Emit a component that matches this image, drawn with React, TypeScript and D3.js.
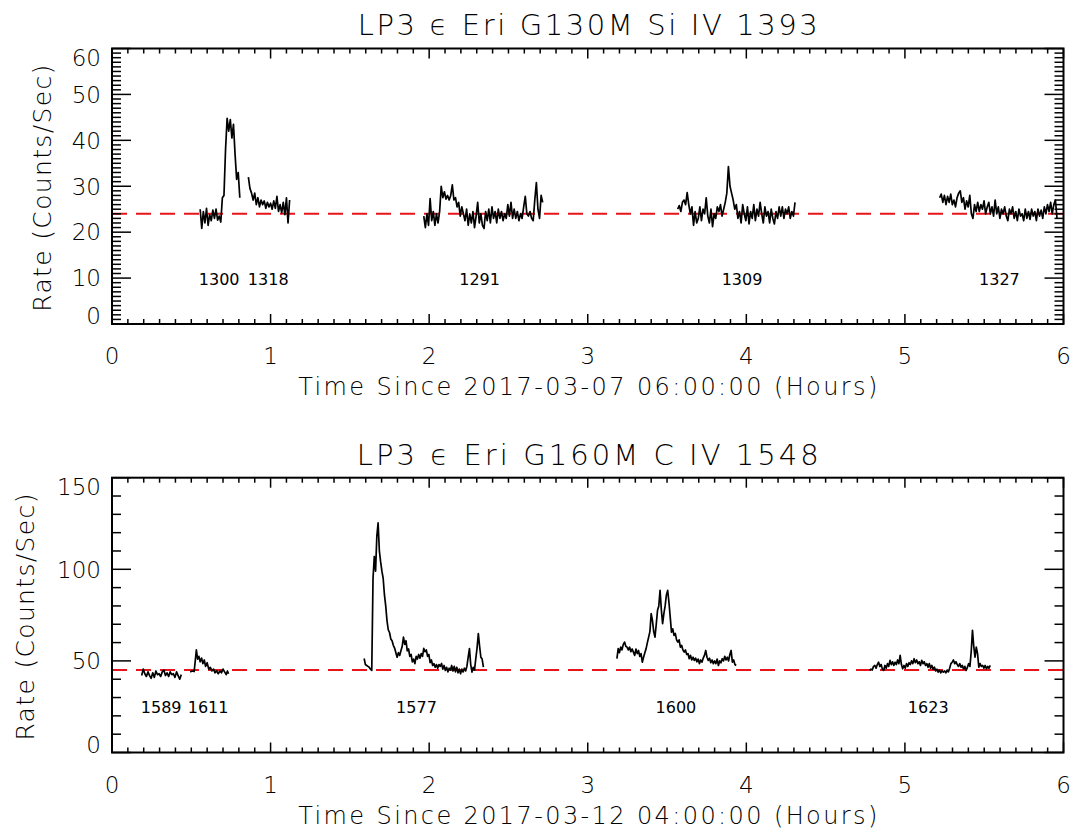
import React from "react";
import * as d3 from "d3";

// ---------- data (top panel: G130M Si IV 1393) ----------
const topSeg1Start = 0.556;
const topSeg1 = [25.0, 20.8, 24.5, 22.0, 25.2, 21.5, 23.8, 22.5, 24.8, 23.0, 25.0, 22.6, 23.5, 22.2, 27.5, 28.0, 38.0, 44.8, 42.0, 44.5, 40.5, 43.5, 37.0, 31.5, 33.0, 27.5];
const topSeg2Start = 0.86;
const topSeg2 = [32.0, 29.5, 28.5, 27.0, 28.5, 26.0, 27.5, 25.5, 27.0, 26.0, 26.8, 25.2, 26.5, 25.5, 26.3, 25.0, 26.8, 25.2, 27.8, 24.5, 26.0, 24.2, 26.5, 23.8, 27.5, 22.0, 27.0];
const topSeg3Start = 1.966;
const topSeg3 = [23.5, 21.0, 24.0, 21.5, 27.3, 22.5, 24.5, 21.5, 24.0, 22.0, 24.5, 30.0, 27.5, 28.8, 27.2, 28.0, 27.0, 28.0, 30.3, 27.0, 27.5, 25.5, 26.5, 23.5, 25.5, 24.0, 22.5, 25.0, 21.5, 24.0, 22.0, 24.5, 21.0, 23.5, 26.5, 22.0, 24.0, 21.5, 20.8, 24.5, 22.5, 25.0, 22.0, 25.5, 23.0, 24.5, 22.0, 25.0, 23.0, 24.5, 22.5, 24.0, 23.0, 26.0, 23.5, 26.5, 23.0, 25.0, 23.0, 24.5, 22.5, 24.0, 23.0, 25.5, 27.8, 24.0, 23.5, 24.5, 23.0, 22.5, 27.0, 30.8, 25.0, 23.0, 28.0, 26.5];
const topSeg4Start = 3.567;
const topSeg4 = [25.0, 25.8, 24.5, 26.5, 27.0, 26.0, 28.6, 26.0, 24.0, 25.5, 21.5, 24.5, 22.0, 23.0, 25.5, 22.5, 25.0, 24.0, 27.5, 23.5, 22.0, 25.0, 21.2, 24.0, 23.0, 25.5, 24.5, 26.0, 23.5, 25.0, 26.5, 28.5, 34.3, 30.0, 28.5, 27.0, 25.0, 26.0, 23.0, 24.5, 22.0, 26.0, 24.0, 22.5, 25.5, 21.8, 24.5, 23.0, 26.0, 22.5, 25.0, 23.5, 26.5, 24.0, 22.0, 25.5, 23.5, 24.5, 22.0, 25.0, 23.0, 21.8, 24.5, 23.0, 25.5, 23.5, 25.5, 23.0, 25.0, 24.0, 25.5, 23.0, 24.5, 23.5, 26.5];
const topSeg5Start = 5.219;
const topSeg5 = [27.5, 28.3, 26.5, 28.0, 26.0, 27.8, 26.5, 28.3, 26.0, 27.0, 25.5, 27.5, 28.5, 29.0, 26.5, 27.5, 25.0, 26.8, 25.5, 28.0, 24.0, 23.0, 26.0, 24.5, 26.5, 24.5, 26.0, 25.0, 26.8, 24.0, 25.5, 26.5, 24.0, 25.5, 23.5, 27.0, 24.0, 25.5, 23.0, 25.0, 24.0, 25.5, 23.5, 22.5, 25.0, 24.0, 25.5, 23.0, 24.5, 22.5, 25.0, 23.5, 24.0, 22.5, 25.0, 23.0, 24.5, 22.8, 25.0, 23.5, 24.5, 22.5, 25.0, 23.5, 24.8, 23.0, 25.5, 24.0, 26.0, 24.5, 26.5, 24.0, 26.0, 27.0, 23.0];
const topStep = 0.01;
const topBaseline = 24;
const topLabels = ["1300", "1318", "1291", "1309", "1327"];
const topLabelTimes = [0.676, 0.985, 2.318, 3.973, 5.596];

// ---------- data (bottom panel: G160M C IV 1548) ----------
const botSeg1Start = 0.187;
const botSeg1 = [42.0, 45.5, 43.0, 41.5, 44.0, 42.0, 40.5, 43.5, 41.0, 44.5, 42.5, 43.0, 41.5, 44.0, 45.0, 42.0, 43.5, 41.5, 44.0, 42.5, 43.0, 41.0, 44.0, 42.0, 40.0, 42.5];
const botSeg2T = [0.493, 0.505, 0.518, 0.525, 0.532, 0.54, 0.548, 0.556, 0.565, 0.573, 0.582, 0.59, 0.6, 0.61, 0.62, 0.63, 0.64, 0.65, 0.66, 0.67, 0.68, 0.69, 0.7, 0.71, 0.72, 0.728, 0.735];
const botSeg2V = [44.0, 44.5, 44.2, 50.0, 56.0, 51.0, 52.5, 49.5, 51.5, 48.5, 50.5, 47.0, 49.0, 45.5, 46.5, 44.5, 45.5, 43.5, 44.5, 43.0, 44.5, 43.5, 45.5, 44.0, 42.5, 44.5, 43.0];
const botStep = 0.008;
const botSeg3Start = 1.59;
const botSeg3 = [51.3, 48.0, 47.5, 47.0, 46.5, 45.5, 44.8, 95.0, 107.0, 99.0, 118.0, 125.3, 110.0, 104.0, 99.0, 95.0, 86.0, 80.0, 72.0, 67.0, 65.5, 62.0, 61.0, 58.5, 57.0, 54.5, 52.0, 54.5, 53.0, 55.5, 58.0, 63.0, 59.0, 61.0, 55.5, 56.5, 52.5, 53.5, 49.5, 51.0, 48.5, 52.5, 51.0, 53.5, 51.5, 54.0, 52.5, 56.8, 55.0, 56.0, 52.5, 53.5, 49.0, 50.5, 47.5, 48.5, 46.5, 48.0, 46.0, 48.0, 47.0, 48.6, 45.5, 47.5, 44.8, 46.5, 44.0, 46.0, 45.0, 47.5, 44.5, 47.0, 44.0, 46.5, 43.5, 45.5, 43.0, 45.5, 44.0, 46.0, 44.5, 47.0, 52.0, 56.7, 48.0, 43.9, 46.5, 45.0, 51.2, 57.0, 64.9, 58.0, 52.0, 51.0, 46.6];
const botSeg4Start = 3.184;
const botSeg4 = [51.2, 56.7, 54.5, 57.5, 56.0, 59.0, 60.3, 58.0, 57.5, 56.0, 57.5, 55.0, 56.5, 54.8, 53.0, 56.5, 54.0, 55.7, 52.5, 54.0, 49.3, 52.0, 54.5, 56.7, 60.0, 63.0, 66.0, 75.8, 72.0, 66.0, 63.0, 70.0, 77.6, 80.0, 88.5, 78.0, 70.3, 75.8, 80.0, 86.0, 88.5, 82.0, 74.0, 65.7, 67.5, 63.9, 65.0, 61.5, 60.3, 61.5, 57.5, 58.5, 56.0, 54.8, 56.0, 53.5, 54.0, 51.2, 53.0, 50.5, 52.0, 50.3, 51.5, 49.5, 51.0, 48.5, 50.5, 49.3, 51.5, 53.0, 55.7, 52.0, 50.3, 51.5, 49.0, 50.5, 48.5, 50.0, 48.5, 51.0, 47.5, 50.0, 49.0, 51.2, 50.0, 52.5, 50.5, 52.0, 50.0, 53.5, 55.7, 49.3, 50.5, 48.0, 47.5];
const botSeg5Start = 4.778;
const botSeg5 = [44.8, 45.5, 45.0, 47.0, 47.5, 46.0, 48.0, 49.3, 47.0, 48.0, 45.5, 44.8, 47.5, 46.0, 48.5, 47.0, 50.3, 48.0, 49.5, 47.5, 49.3, 48.0, 50.5, 48.5, 53.0, 48.0, 45.7, 47.5, 46.0, 48.5, 47.0, 49.0, 48.0, 50.0, 48.5, 51.2, 49.0, 50.5, 48.5, 49.5, 47.5, 50.3, 48.5, 49.5, 47.5, 48.5, 46.5, 48.5, 46.0, 47.5, 45.5, 46.6, 44.5, 45.5, 43.9, 45.0, 43.5, 44.5, 43.9, 44.5, 43.5, 45.0, 44.0, 46.0, 48.5, 49.3, 50.5, 48.5, 49.5, 48.0, 47.0, 48.5, 46.6, 47.5, 45.5, 47.0, 44.8, 46.5, 48.5, 47.0, 55.0, 66.7, 58.0, 52.0, 57.5, 54.0, 46.6, 48.5, 47.0, 47.5, 46.0, 47.5, 45.7, 47.0, 46.0, 47.5];
const botBaseline = 45;
const botLabels = ["1589", "1611", "1577", "1600", "1623"];
const botLabelTimes = [0.31, 0.606, 1.92, 3.556, 5.147];

const topTitle = "LP3 \u03f5 Eri G130M Si IV 1393";
const botTitle = "LP3 \u03f5 Eri G160M C IV 1548";
const topXLabel = "Time Since 2017-03-07 06:00:00 (Hours)";
const botXLabel = "Time Since 2017-03-12 04:00:00 (Hours)";
const yLabel = "Rate (Counts/Sec)";
const xTicks = [0, 1, 2, 3, 4, 5, 6];
const topYTicks = [0, 10, 20, 30, 40, 50, 60];
const botYTicks = [0, 50, 100, 150];

type Pt = [number, number];
const regular = (start: number, step: number, vals: number[]): Pt[] => vals.map((v, i) => [start + i * step, v]);
const paired = (ts: number[], vs: number[]): Pt[] => ts.map((t, i) => [t, vs[i]]);

const FONT = "'DejaVu Sans', sans-serif";

interface PanelProps {
  top: number;
  bottom: number;
  yMax: number;
  yMinorStep: number;
  yTicks: number[];
  segments: Pt[][];
  baseline: number;
  labels: string[];
  labelTimes: number[];
  labelY: number;
  title: string;
  titleY: number;
  titleLen: number;
  xLabel: string;
  yLabelX: number;
}

const LEFT = 112;
const RIGHT = 1063.5;

function Panel(p: PanelProps) {
  const x = d3.scaleLinear().domain([0, 6]).range([LEFT, RIGHT]);
  const y = d3.scaleLinear().domain([0, p.yMax]).range([p.bottom, p.top]);
  const line = d3.line<Pt>().x((d) => x(d[0])).y((d) => y(d[1]));
  const xMinor = d3.range(0, 6.0001, 0.1);
  const yMinor = d3.range(0, p.yMax + 0.0001, p.yMinorStep);
  const xMajLen = 10, xMinLen = 5, yMajLen = 19, yMinLen = 9;
  const yMid = (p.top + p.bottom) / 2;
  return (
    <g>
      <text x={(LEFT + RIGHT) / 2} y={p.titleY} textAnchor="middle" fontSize={29} fontFamily={FONT} fontWeight={200}
        textLength={p.titleLen} lengthAdjust="spacing">{p.title}</text>
      <line x1={LEFT} x2={RIGHT} y1={y(p.baseline)} y2={y(p.baseline)} stroke="#e8141c" strokeWidth={2} strokeDasharray="15,9" />
      {p.segments.map((s, i) => (
        <path key={i} d={line(s) || ""} fill="none" stroke="#000" strokeWidth={1.7} strokeLinejoin="round" />
      ))}
      {p.labels.map((l, i) => (
        <text key={l} x={x(p.labelTimes[i])} y={p.labelY} textAnchor="middle" fontSize={16} fontFamily={FONT} fontWeight={400}>{l}</text>
      ))}
      {xMinor.map((t, i) => {
        const len = Math.abs(t - Math.round(t)) < 1e-6 ? xMajLen : xMinLen;
        return (
          <g key={"xm" + i}>
            <line x1={x(t)} x2={x(t)} y1={p.bottom} y2={p.bottom - len} stroke="#000" strokeWidth={1.5} />
            <line x1={x(t)} x2={x(t)} y1={p.top} y2={p.top + len} stroke="#000" strokeWidth={1.5} />
          </g>
        );
      })}
      {yMinor.map((v, i) => {
        const major = p.yTicks.some((t) => Math.abs(t - v) < 1e-6);
        const len = major ? yMajLen : yMinLen;
        return (
          <g key={"ym" + i}>
            <line x1={LEFT} x2={LEFT + len} y1={y(v)} y2={y(v)} stroke="#000" strokeWidth={1.5} />
            <line x1={RIGHT} x2={RIGHT - len} y1={y(v)} y2={y(v)} stroke="#000" strokeWidth={1.5} />
          </g>
        );
      })}
      <rect x={LEFT} y={p.top} width={RIGHT - LEFT} height={p.bottom - p.top} fill="none" stroke="#000" strokeWidth={2} />
      {xTicks.map((t) => (
        <text key={"xl" + t} x={x(t)} y={p.bottom + 40} textAnchor="middle" fontSize={23} fontFamily={FONT} fontWeight={200}>{t}</text>
      ))}
      {p.yTicks.map((v) => {
        const yy = Math.max(p.top + 9.5, Math.min(p.bottom - 8, y(v)));
        return (
          <text key={"yl" + v} x={101} y={yy} dy="0.36em" textAnchor="end" fontSize={23} fontFamily={FONT} fontWeight={200}>{v}</text>
        );
      })}
      <text x={(LEFT + RIGHT) / 2 + 0} y={p.bottom + 71} textAnchor="middle" fontSize={24} fontFamily={FONT} fontWeight={200}
        textLength={579} lengthAdjust="spacing">{p.xLabel}</text>
      <text transform={`translate(${p.yLabelX},${yMid + 2}) rotate(-90)`} textAnchor="middle" fontSize={25} fontFamily={FONT} fontWeight={200}
        textLength={247} lengthAdjust="spacing">{yLabel}</text>
    </g>
  );
}

export default function App() {
  const topSegs = [
    regular(topSeg1Start, topStep, topSeg1),
    regular(topSeg2Start, topStep, topSeg2),
    regular(topSeg3Start, topStep, topSeg3),
    regular(topSeg4Start, topStep, topSeg4),
    regular(topSeg5Start, topStep, topSeg5),
  ];
  const botSegs = [
    regular(botSeg1Start, topStep, botSeg1),
    paired(botSeg2T, botSeg2V),
    regular(botSeg3Start, botStep, botSeg3),
    regular(botSeg4Start, botStep, botSeg4),
    regular(botSeg5Start, botStep, botSeg5),
  ];
  return (
    <svg width={1075} height={833} viewBox="0 0 1075 833" style={{ position: "absolute", left: 0, top: 0, background: "#fff" }}>
      <rect x={0} y={0} width={1075} height={833} fill="#fff" />
      <Panel top={48.5} bottom={324} yMax={60} yMinorStep={1} yTicks={topYTicks} segments={topSegs} baseline={topBaseline}
        labels={topLabels} labelTimes={topLabelTimes} labelY={285} title={topTitle} titleY={35} titleLen={460}
        xLabel={topXLabel} yLabelX={51} />
      <Panel top={477.7} bottom={752.5} yMax={150} yMinorStep={10} yTicks={botYTicks} segments={botSegs} baseline={botBaseline}
        labels={botLabels} labelTimes={botLabelTimes} labelY={713} title={botTitle} titleY={465} titleLen={462}
        xLabel={botXLabel} yLabelX={34} />
    </svg>
  );
}
